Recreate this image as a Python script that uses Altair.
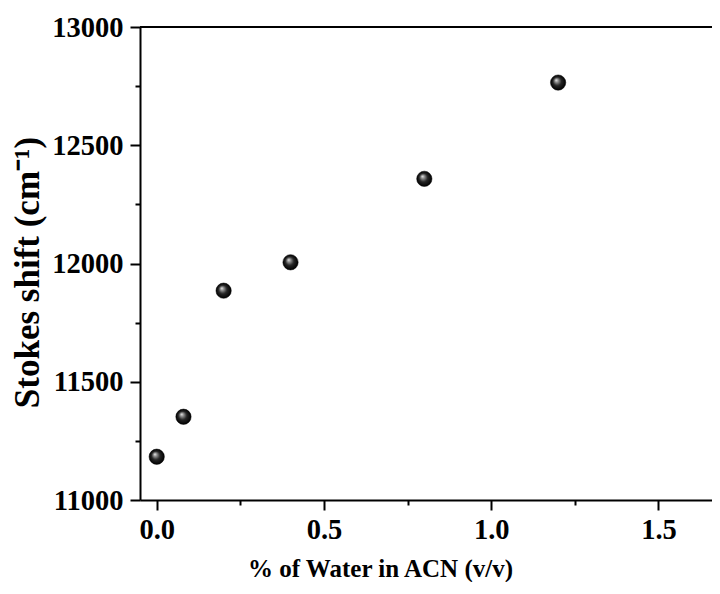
import altair as alt
import pandas as pd

water = [0.0, 0.08, 0.2, 0.4, 0.8, 1.2]
stokes = [11183, 11352, 11885, 12005, 12358, 12765]

x_ticks = [0.0, 0.25, 0.5, 0.75, 1.0, 1.25, 1.5]
y_ticks = [11000, 11250, 11500, 11750, 12000, 12250, 12500, 12750, 13000]

df = pd.DataFrame({"water": water, "stokes": stokes})

W, H = 572, 473
FONT = "Liberation Serif"

sphere = {
    "gradient": "radial",
    "x1": 0.37, "y1": 0.33, "r1": 0.0,
    "x2": 0.5, "y2": 0.5, "r2": 0.5,
    "stops": [
        {"offset": 0.0, "color": "#f4f4f4"},
        {"offset": 0.2, "color": "#9a9a9a"},
        {"offset": 0.55, "color": "#262626"},
        {"offset": 1.0, "color": "#000000"},
    ],
}

x_major = "abs(round(datum.value*2) - datum.value*2) < 1e-6"
y_major = "datum.value % 500 === 0"

points = alt.Chart(df).mark_circle(size=235, fill=sphere, opacity=1,
                                   stroke="#000000", strokeWidth=0.5).encode(
    x=alt.X("water:Q",
            scale=alt.Scale(domain=[-0.05, 1.66], nice=False, zero=False),
            axis=alt.Axis(
                values=x_ticks,
                title="% of Water in ACN (v/v)",
                labelExpr=f"{x_major} ? format(datum.value, '.1f') : ''",
                tickSize={"condition": {"test": x_major, "value": 10}, "value": 5},
                labelPadding=5,
                titlePadding=13,
                titleFontSize=25,
                titleX=240,
                labelOverlap=False,
            )),
    y=alt.Y("stokes:Q",
            scale=alt.Scale(domain=[11000, 13000], nice=False, zero=False),
            axis=alt.Axis(
                values=y_ticks,
                title="Stokes shift (cm⁻¹)",
                labelExpr=f"{y_major} ? format(datum.value, 'd') : ''",
                tickSize={"condition": {"test": y_major, "value": 10}, "value": 5},
                labelPadding=7,
                titlePadding=6,
                titleFontSize=35,
                titleY=245,
                labelOverlap=False,
            )),
)

top_line = alt.Chart(df).mark_rule(color="#000000", strokeWidth=2).encode(
    x=alt.value(0), x2=alt.value(W), y=alt.value(0)
)

chart = alt.layer(points, top_line).properties(
    width=W, height=H,
    autosize=alt.AutoSizeParams(type="none"),
    padding={"left": 132, "top": 19, "right": 0, "bottom": 82},
).configure_view(stroke=None).configure_axis(
    grid=False,
    domainColor="#000000", domainWidth=2,
    tickColor="#000000", tickWidth=2,
    labelFont=FONT, labelFontWeight="bold", labelFontSize=28.5, labelColor="#000000",
    titleFont=FONT, titleFontWeight="bold", titleColor="#000000",
)

chart.save("out.html", embed_options={"renderer": "svg", "actions": False})
